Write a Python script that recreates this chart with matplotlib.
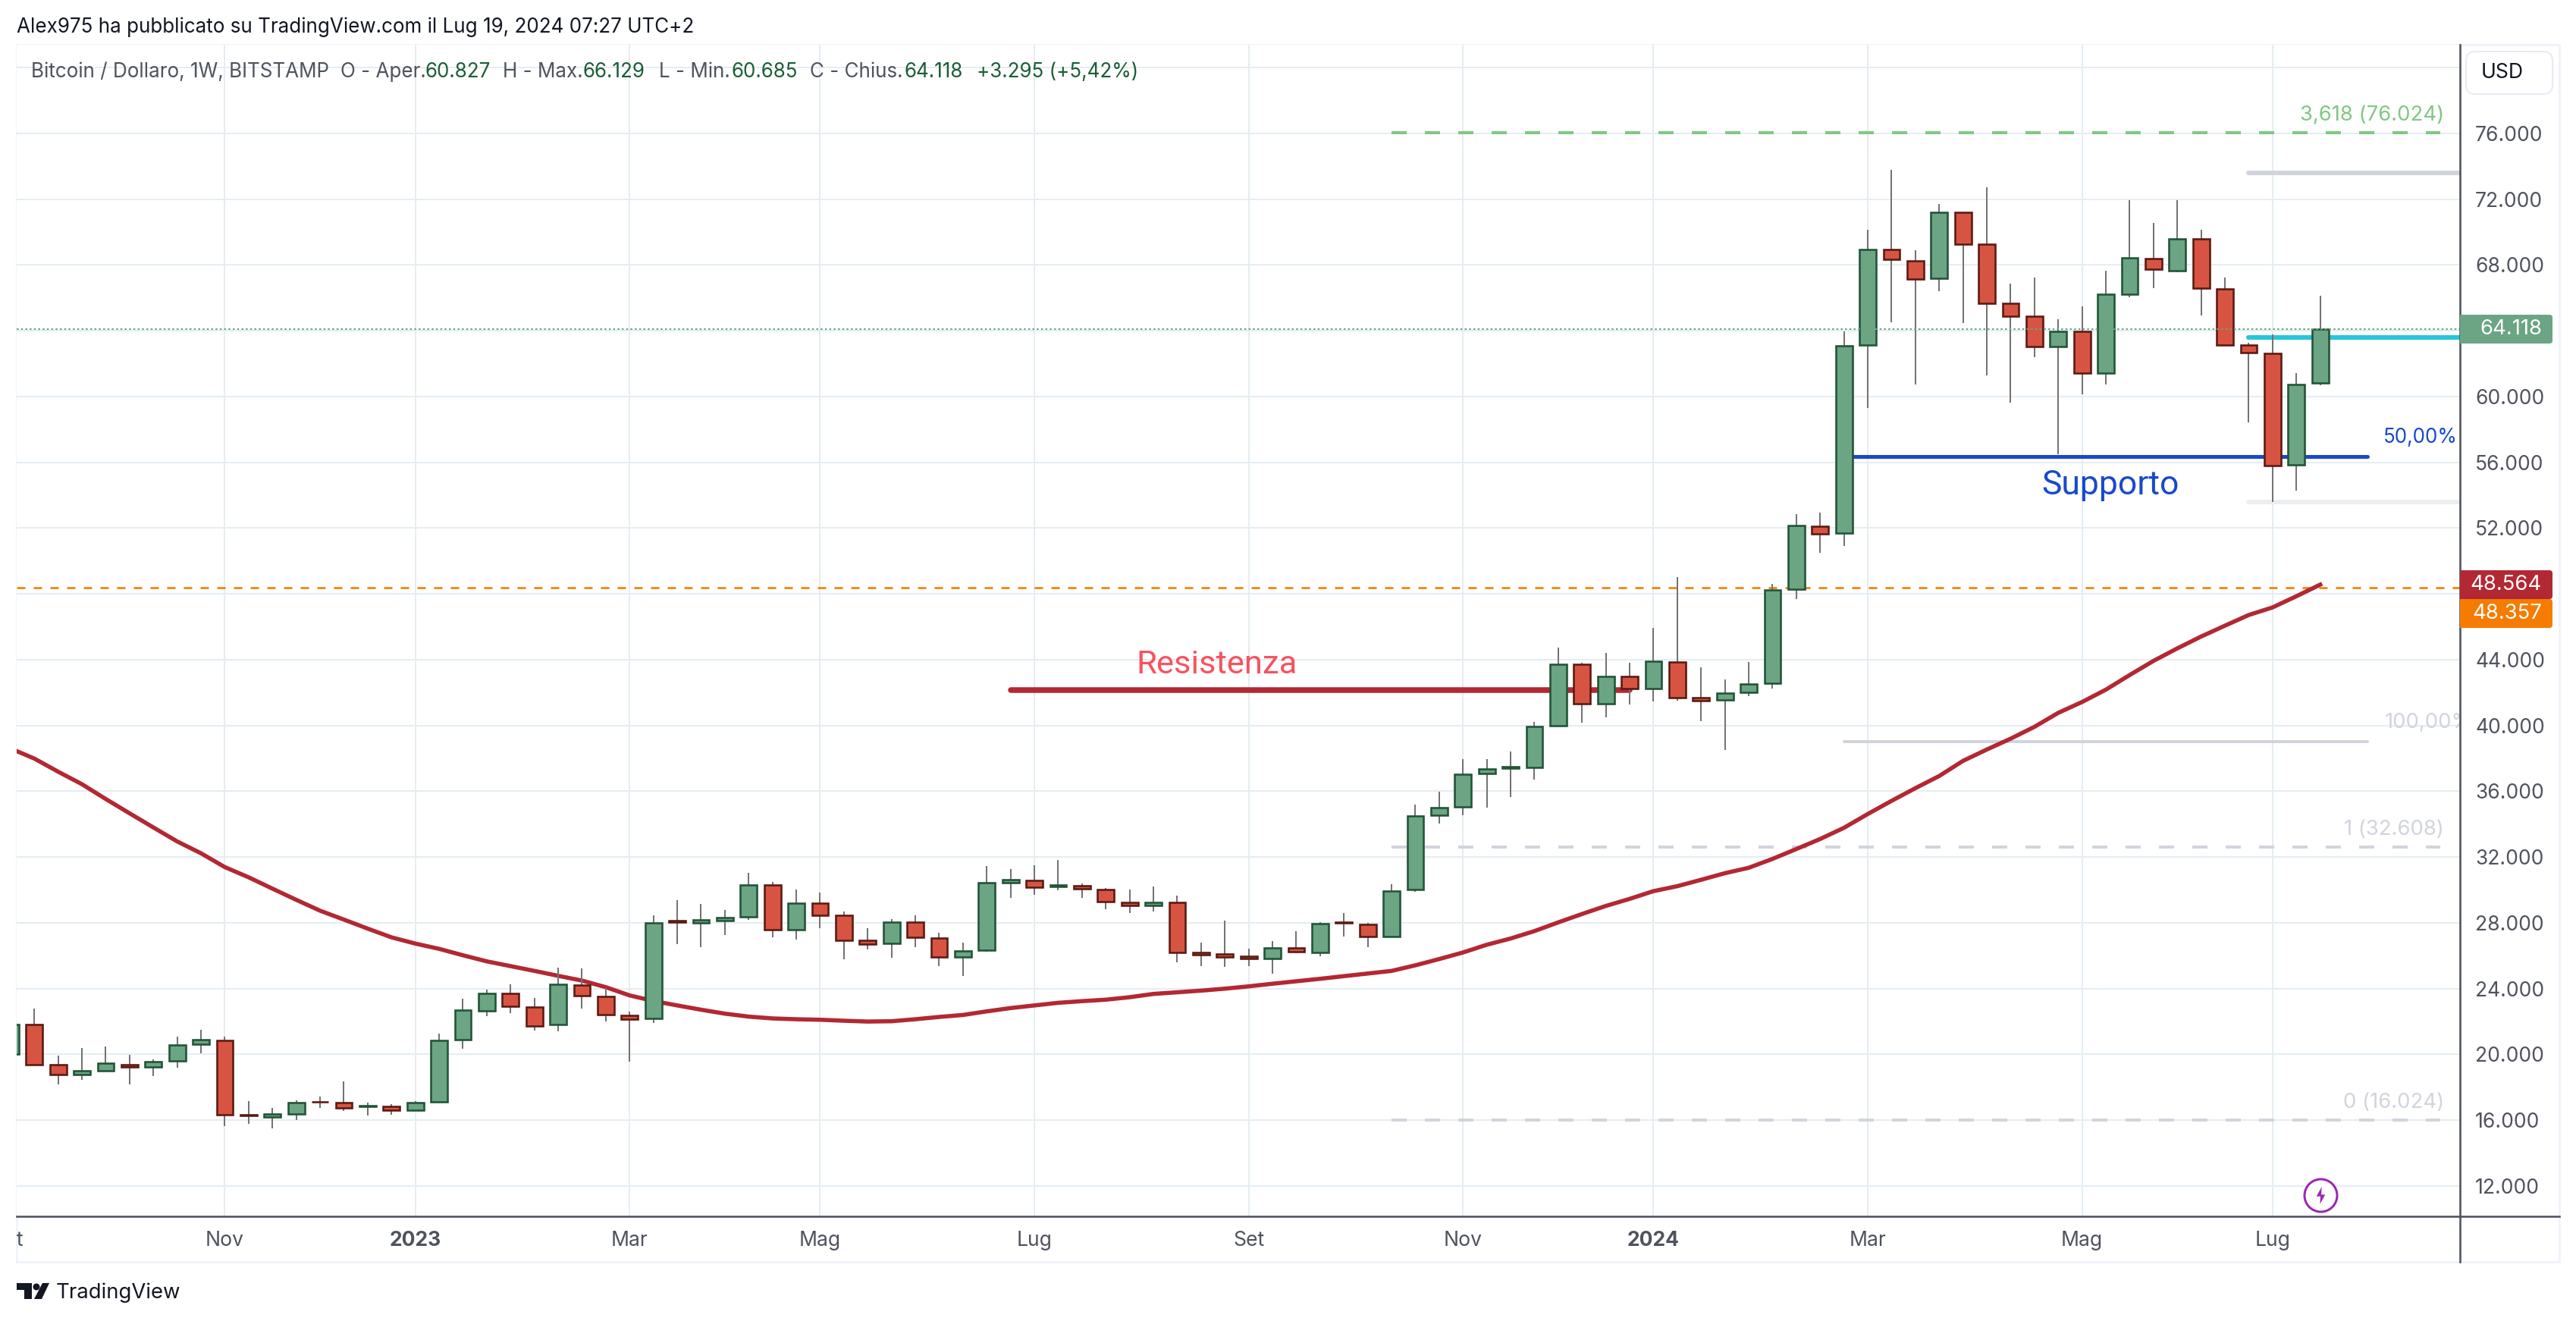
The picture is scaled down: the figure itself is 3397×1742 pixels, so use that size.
import matplotlib
matplotlib.use('Agg')
import matplotlib.pyplot as plt
from matplotlib.lines import Line2D
from matplotlib.patches import Rectangle, Polygon, Circle, FancyBboxPatch
from matplotlib.transforms import Bbox, IdentityTransform

W, H = 3397, 1742
DPI = 100
PT = 72 / DPI   # pixels to points

plt.rcParams['font.family'] = ['Inter', 'DejaVu Sans']
plt.rcParams['lines.scale_dashes'] = False

# weekly candles, price in thousands of USD
opens = [20.0, 21.8, 19.38, 18.8, 19.03, 19.4, 19.24, 19.59, 20.6, 20.86,
         16.33, 16.2, 16.4, 17.13, 17.08, 16.83, 16.82, 16.6, 17.1, 20.88,
         22.66, 23.72, 22.9, 21.8, 24.23, 23.53, 22.38, 22.17, 28.12, 27.98,
         28.15, 28.35, 30.32, 27.57, 29.21, 28.48, 26.92, 26.74, 28.06, 27.09,
         25.91, 26.32, 30.46, 30.6, 30.23, 30.24, 30.04, 29.26, 29.05, 29.26,
         26.19, 26.09, 25.96, 25.82, 26.49, 26.19, 28.03, 27.92, 27.15, 30.01,
         34.53, 35.04, 37.07, 37.42, 37.44, 39.99, 43.74, 41.31, 43.0, 42.23,
         43.88, 41.68, 41.54, 42.0, 42.56, 48.27, 52.13, 51.72, 63.11, 68.96,
         68.26, 67.18, 71.21, 69.27, 65.68, 64.89, 63.06, 63.96, 61.41, 66.2,
         68.4, 67.67, 69.6, 66.55, 63.11, 62.63, 55.83, 60.827]
closes = [21.8, 19.4, 18.8, 19.03, 19.45, 19.25, 19.54, 20.59, 20.88, 16.32,
          16.3, 16.4, 17.08, 17.1, 16.73, 16.87, 16.6, 17.08, 20.86, 22.71,
          23.72, 22.92, 21.75, 24.28, 23.56, 22.4, 22.15, 28.0, 28.06, 28.17,
          28.31, 30.32, 27.57, 29.21, 28.45, 26.92, 26.72, 28.06, 27.11, 25.91,
          26.31, 30.46, 30.61, 30.15, 30.29, 30.06, 29.28, 29.05, 29.26, 26.19,
          26.08, 25.94, 25.82, 26.49, 26.23, 27.97, 27.98, 27.15, 29.95, 34.5,
          35.02, 37.05, 37.38, 37.48, 39.96, 43.74, 41.31, 43.0, 42.23, 43.92,
          41.68, 41.53, 41.99, 42.54, 48.26, 52.14, 51.67, 63.09, 68.96, 68.33,
          67.13, 71.21, 69.28, 65.69, 64.9, 63.06, 63.96, 61.41, 66.24, 68.44,
          67.72, 69.6, 66.57, 63.11, 62.65, 55.79, 60.73, 64.118]
highs = [21.9, 22.8, 19.92, 20.4, 20.48, 19.98, 19.68, 21.07, 21.49, 21.07,
         17.15, 16.77, 17.22, 17.43, 18.36, 17.07, 16.96, 17.15, 21.26, 23.39,
         23.93, 24.26, 23.43, 25.27, 25.24, 24.03, 22.6, 28.46, 29.38, 29.15,
         28.78, 31.04, 30.47, 30.03, 29.84, 28.69, 27.68, 28.23, 28.46, 27.4,
         26.8, 31.46, 31.27, 31.5, 31.83, 30.4, 30.12, 30.03, 30.21, 29.66,
         26.8, 28.14, 26.43, 26.89, 27.49, 28.05, 28.6, 27.98, 30.35, 35.19,
         35.98, 37.96, 37.96, 38.42, 40.22, 44.74, 43.82, 44.41, 43.82, 45.94,
         49.03, 43.54, 42.8, 43.86, 48.61, 52.85, 52.96, 63.95, 70.14, 73.77,
         68.89, 71.71, 71.21, 72.71, 66.86, 67.23, 64.69, 65.48, 67.64, 71.94,
         70.55, 71.94, 70.14, 67.23, 63.26, 63.77, 61.41, 66.129]
lows = [19.9, 19.33, 18.16, 18.46, 18.98, 18.16, 18.69, 19.19, 20.06, 15.65,
        15.78, 15.5, 16.02, 16.73, 16.58, 16.28, 16.32, 16.6, 17.1, 20.34,
        22.33, 22.5, 21.46, 21.4, 22.78, 22.0, 19.56, 21.93, 26.72, 26.54,
        27.28, 28.2, 27.14, 27.0, 27.69, 25.79, 26.4, 25.89, 26.54, 25.37,
        24.79, 26.26, 29.54, 29.7, 30.0, 29.54, 28.83, 28.61, 28.69, 25.62,
        25.37, 25.33, 25.37, 24.91, 26.17, 25.99, 27.19, 26.54, 27.15, 29.91,
        34.04, 34.55, 35.01, 35.66, 36.73, 39.99, 40.19, 40.5, 41.28, 41.46,
        41.51, 40.28, 38.53, 41.79, 42.25, 47.69, 50.52, 50.93, 59.32, 64.51,
        60.73, 66.42, 64.46, 61.28, 59.63, 62.4, 56.5, 60.14, 60.73, 66.04,
        66.6, 67.57, 64.94, 63.11, 58.43, 53.57, 54.28, 60.685]
ma_values = [38.6, 37.99, 37.19, 36.43, 35.53, 34.66, 33.8, 32.95, 32.23, 31.39,
             30.77, 30.08, 29.4, 28.74, 28.2, 27.65, 27.12, 26.74, 26.42, 26.03,
             25.66, 25.37, 25.08, 24.78, 24.49, 24.09, 23.59, 23.25, 22.98, 22.72,
             22.48, 22.3, 22.19, 22.14, 22.11, 22.05, 22.0, 22.02, 22.14, 22.28,
             22.4, 22.62, 22.82, 22.98, 23.14, 23.24, 23.33, 23.48, 23.68, 23.78,
             23.88, 24.0, 24.14, 24.3, 24.45, 24.6, 24.76, 24.92, 25.08, 25.42,
             25.8, 26.2, 26.67, 27.05, 27.5, 28.03, 28.54, 29.03, 29.46, 29.93,
             30.23, 30.62, 31.02, 31.35, 31.89, 32.49, 33.1, 33.78, 34.62, 35.42,
             36.19, 36.93, 37.85, 38.54, 39.2, 39.92, 40.77, 41.43, 42.18, 43.07,
             43.93, 44.69, 45.41, 46.07, 46.72, 47.18, 47.86, 48.564]

price_ticks = list(range(12, 84, 4))
hidden_ticks = [48, 64, 80]
month_idx = [9, 17, 26, 34, 43, 52, 61, 69, 78, 87, 95]
month_labels = ['Nov', '2023', 'Mar', 'Mag', 'Lug', 'Set', 'Nov', '2024', 'Mar', 'Mag', 'Lug']

fib_ext_levels = [76.024, 32.608, 16.024]
fib_ext_labels = ['3,618 (76.024)', '1 (32.608)', '0 (16.024)']
fib_ext_colors = ['#81c784', '#d1d4dc', '#d1d4dc']
retr_levels = [73.6, 63.6, 53.58]
retr_colors = ['#d1d4dc', '#26c6da', '#eceef2']
resistance = 42.15
support = 56.35
low_level = 39.02
ema_last = 48.357

C_TEXT = '#50535e'
C_DARK = '#131722'
C_GRID = '#e4edf3'
C_BORDER = '#f0f3fa'
C_GREEN = '#6ba583'
C_RED = '#d75442'
C_BLUE = '#1848cc'
C_MA = '#b22833'
C_ORANGE = '#f57c00'


def fx(x):
    return x / W


def fy(y):
    return 1 - y / H


fig = plt.figure(figsize=(W / DPI, H / DPI), dpi=DPI, facecolor='white')
L, R, T, B = 22, 3244, 59, 1604
ax = fig.add_axes([fx(L), fy(B), fx(R - L), (B - T) / H])
ax.set_xlim(0.258, 102.87)
ax.set_ylim(10.156, 81.39)

# grid and axis
ax.set_axisbelow(True)
ax.grid(True, color=C_GRID, lw=2 * PT)
ax.set_yticks(price_ticks)
ax.set_yticklabels(['' if t in hidden_ticks else '%d.000' % t for t in price_ticks])
ax.set_xticks(month_idx)
ax.set_xticklabels(month_labels)
ax.yaxis.tick_right()
ax.tick_params(axis='y', length=0, pad=20 * PT, labelsize=26.5 * PT, labelcolor=C_TEXT)
ax.tick_params(axis='x', length=0, pad=19 * PT, labelsize=26.5 * PT, labelcolor=C_TEXT)
for lab in ax.get_xticklabels():
    if lab.get_text().startswith('20'):
        lab.set_fontweight('bold')
for s in ['top', 'left', 'right', 'bottom']:
    ax.spines[s].set_visible(False)

# overlays behind the candles
ax.axhline(ema_last, color=C_ORANGE, lw=2.6 * PT, ls=(0, (11 * PT, 11 * PT)), zorder=1.5)
for lev, col in zip(fib_ext_levels, fib_ext_colors):
    ax.plot([58, 102.05], [lev, lev], color=col, lw=4 * PT, ls=(0, (20 * PT, 24 * PT)), zorder=1.6)
for lev, col in zip(retr_levels, retr_colors):
    ax.plot([94, 110], [lev, lev], color=col, lw=6 * PT, solid_capstyle='round', zorder=1.6)
ax.plot([77, 99], [low_level, low_level], color='#d1d4dc', lw=4 * PT, solid_capstyle='round', zorder=1.6)
ax.plot([77, 99], [support, support], color=C_BLUE, lw=5 * PT, solid_capstyle='round', zorder=1.7)
ax.plot([42, 68], [resistance, resistance], color=C_MA, lw=7.5 * PT, solid_capstyle='round', zorder=1.7)
ax.plot(range(len(ma_values)), ma_values, color=C_MA, lw=5.5 * PT, zorder=1.8, solid_joinstyle='round')

# candles
idx = list(range(len(opens)))
up = [c >= o for o, c in zip(opens, closes)]
ax.vlines(idx, lows, highs, color='#737375', lw=2 * PT, zorder=3)
ax.bar(idx, [c - o for o, c in zip(opens, closes)], bottom=opens, width=0.69,
       color=[C_GREEN if u else C_RED for u in up],
       edgecolor=['#225437' if u else '#5b1a13' for u in up],
       linewidth=2.6 * PT, zorder=4)

# last price dotted line
ax.axhline(closes[-1], color=C_GREEN, lw=2 * PT, ls=(0, (2.5 * PT, 3.2 * PT)), zorder=5)

# drawing labels
ax.text(99.7, 39.85, '100,00%', color='#d1d4dc', fontsize=27.5 * PT, clip_on=True, va='baseline', zorder=2)
ax.text(99.65, 57.18, '50,00%', color=C_BLUE, fontsize=26 * PT, va='baseline', zorder=6)


def ptext(x, y, s, **kw):
    kw.setdefault('va', 'center')
    return fig.text(fx(x), fy(y), s, **kw)


ptext(1498, 888, 'Resistenza', color='#f7525f', fontsize=43.5 * PT, family='Roboto', va='baseline')
ptext(2692, 652, 'Supporto', color=C_BLUE, fontsize=44.5 * PT, family='Roboto', va='baseline')
for lab, lev, col in zip(fib_ext_labels, fib_ext_levels, fib_ext_colors):
    y = 1564 - (lev - 12) * 21.69 - 16
    ptext(3223, y, lab, color=col, fontsize=27.5 * PT, ha='right', va='baseline')

# lightning icon on the last bar
ax.plot([97], [11.45], 'o', ms=43 * PT, mfc='white', mec='#9c27b0', mew=3 * PT, zorder=7, clip_on=False)
ax.plot([97], [11.45], marker=[(1, 10), (-5, -1), (-0.5, -1), (-1, -10), (5, 1), (0.5, 1)],
        ms=23 * PT, color='#9c27b0', mew=0, zorder=8, clip_on=False)

# frame
fig.add_artist(Rectangle((fx(L), fy(1664)), fx(3375 - L), (1664 - T) / H, fill=False,
                         ec=C_BORDER, lw=3 * PT, transform=fig.transFigure, zorder=0))
fig.add_artist(Line2D([fx(R), fx(R)], [fy(T), fy(1664)], color=C_TEXT, lw=2.6 * PT, zorder=5))
fig.add_artist(Line2D([fx(L), fx(3375)], [fy(B), fy(B)], color=C_TEXT, lw=2.6 * PT, zorder=5))

# clipped first month label
first = fig.text(fx(12), fy(1636), 'Ott', color=C_TEXT, fontsize=26.5 * PT, ha='center', va='center')
first.set_clip_box(Bbox([[L, 0], [W, H]]))
first.set_clip_on(True)


# price badges, rounded on the right side only
def badge(y0, y1, s, col):
    fig.add_artist(FancyBboxPatch((R + 20, H - y1 + 4), 3366 - R - 24, y1 - y0 - 8,
                                  boxstyle='round,pad=4,rounding_size=4', fc=col, ec='none',
                                  transform=IdentityTransform(), zorder=6))
    fig.add_artist(Rectangle((R, H - y1), 40, y1 - y0, fc=col, ec='none',
                             transform=IdentityTransform(), zorder=6))
    ptext(3352, (y0 + y1) / 2, s, color='white', fontsize=27.5 * PT, ha='right', zorder=7)


badge(415, 453, '64.118', C_GREEN)
badge(752, 790, '48.564', C_MA)
badge(790, 828, '48.357', C_ORANGE)

# USD box
fig.add_artist(FancyBboxPatch((3258, H - 118), 102, 44, boxstyle='round,pad=6,rounding_size=12', fc='white',
                              ec='#e8eaf2', lw=2 * PT, transform=IdentityTransform()))
ptext(3300, 96, 'USD', color=C_DARK, fontsize=26.5 * PT, ha='center')

# header
ptext(22, 36, 'Alex975 ha pubblicato su TradingView.com il Lug 19, 2024 07:27 UTC+2', color=C_DARK, fontsize=26 * PT)
legend_parts = [(41, 'Bitcoin / Dollaro, 1W, BITSTAMP', C_TEXT), (449, 'O - Aper.', C_TEXT), (561, '60.827', '#1b5e36'),
                (663, 'H - Max.', C_TEXT), (769, '66.129', '#1b5e36'), (869, 'L - Min.', C_TEXT), (964, '60.685', '#1b5e36'),
                (1068, 'C - Chius.', C_TEXT), (1192, '64.118', '#1b5e36'), (1288, '+3.295 (+5,42%)', '#1b5e36')]
for x, s, col in legend_parts:
    ptext(x, 95, s, color=col, fontsize=26 * PT)

# logo
logo_t = [(22, 1692), (42, 1692), (42, 1713), (32, 1713), (32, 1701), (22, 1701)]
logo_v = [(56, 1692), (65, 1692), (55, 1713), (45, 1713)]
for pts in [logo_t, logo_v]:
    fig.add_artist(Polygon([(fx(a), fy(b)) for a, b in pts], closed=True, fc=C_DARK, ec='none', transform=fig.transFigure))
fig.add_artist(Circle((48, H - 1697), 4.5, fc=C_DARK, ec='none', transform=IdentityTransform()))
ptext(74, 1705, 'TradingView', color=C_DARK, fontsize=27.5 * PT)

fig.savefig('out.png', dpi=DPI, facecolor='white')
